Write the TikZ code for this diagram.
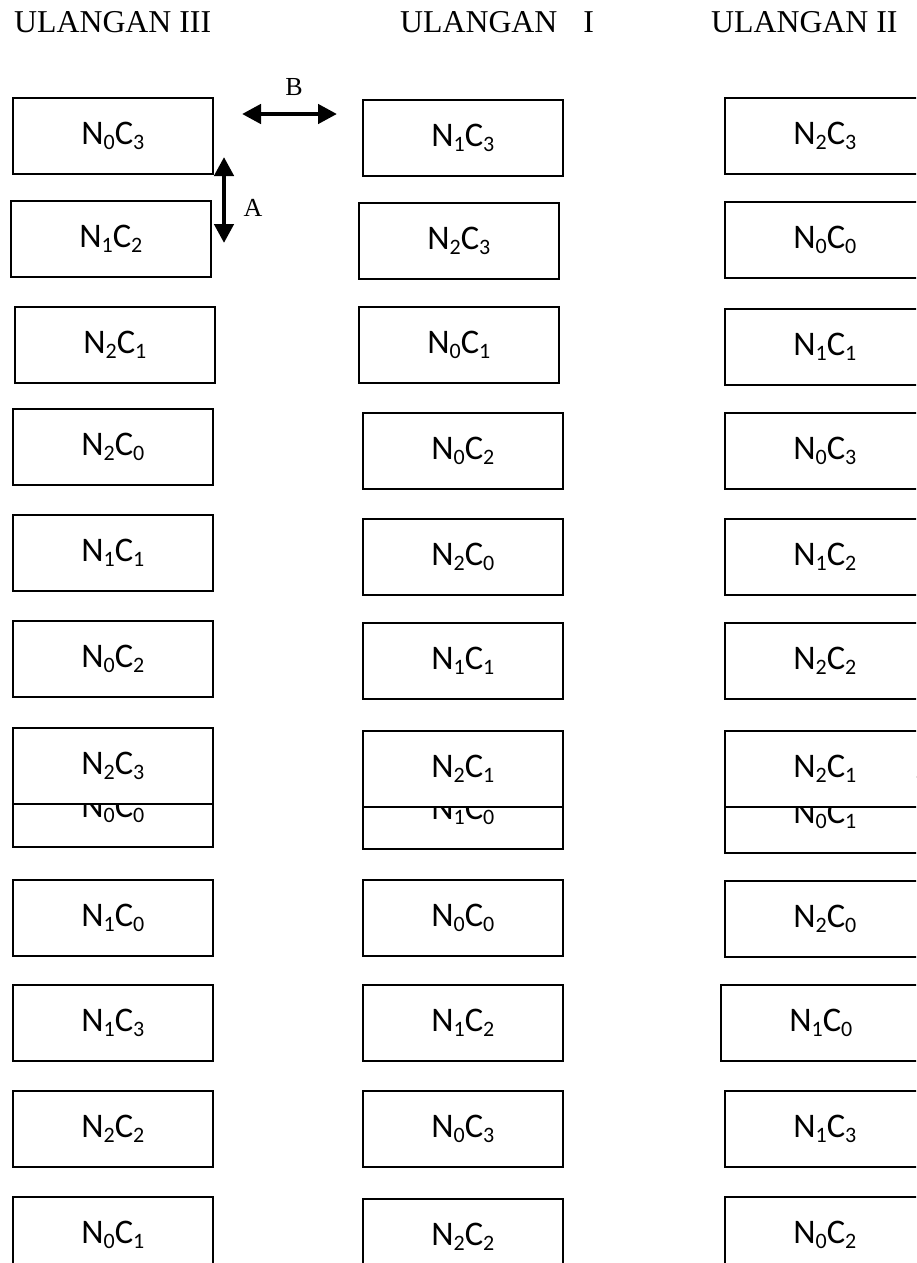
\documentclass[tikz,border=0pt]{standalone}
\usepackage{fontspec}
\setmainfont{Liberation Serif}
\newfontfamily\calfont{Carlito}
\usetikzlibrary{arrows.meta}
\newcommand\sbx[1]{\raisebox{-0.15em}{\fontsize{22}{22}\selectfont #1}}
\newcommand\lbl[2]{N\sbx{#1}C\sbx{#2}}
\tikzset{
  box/.style={draw=black, line width=1.8pt, fill=white, minimum width=200pt,
    minimum height=76pt, inner sep=0pt, anchor=north west,
    font=\calfont\fontsize{34.5}{36}\selectfont},
  hdr/.style={anchor=base west, inner sep=0pt, font=\fontsize{31.8}{33}\selectfont},
  letter/.style={inner sep=0pt, font=\fontsize{26}{28}\selectfont},
  dblarrow/.style={{Triangle[length=19pt,width=19pt]}-{Triangle[length=19pt,width=19pt]}, line width=4.5pt}
}
\begin{document}
\begin{tikzpicture}[x=1pt,y=1pt]
\useasboundingbox (0,0) rectangle (916,-1263);
\clip (0,0) rectangle (916,-1263);
% headers
\node[hdr] (h3) at (14,-33) {ULANGAN III};
\node[hdr] (h1) at (400,-33) {ULANGAN\hspace{26pt}I};
\node[hdr] (h2) at (711,-33) {ULANGAN II};
% column ULANGAN III
\node[box] (a1) at (12,-97) {\lbl03};
\node[box] (a2) at (10,-200) {\lbl12};
\node[box] (a3) at (14,-306) {\lbl21};
\node[box] (a4) at (12,-408) {\lbl20};
\node[box] (a5) at (12,-514) {\lbl11};
\node[box] (a6) at (12,-620) {\lbl02};
\node[box] (a7b) at (12,-770) {\lbl00};
\node[box] (a7) at (12,-727) {\lbl23};
\node[box] (a8) at (12,-879) {\lbl10};
\node[box] (a9) at (12,-984) {\lbl13};
\node[box] (a10) at (12,-1090) {\lbl22};
\node[box] (a11) at (12,-1196) {\lbl01};
% column ULANGAN I
\node[box] (b1) at (362,-99) {\lbl13};
\node[box] (b2) at (358,-202) {\lbl23};
\node[box] (b3) at (358,-306) {\lbl01};
\node[box] (b4) at (362,-412) {\lbl02};
\node[box] (b5) at (362,-518) {\lbl20};
\node[box] (b6) at (362,-622) {\lbl11};
\node[box] (b7b) at (362,-772) {\lbl10};
\node[box] (b7) at (362,-730) {\lbl21};
\node[box] (b8) at (362,-879) {\lbl00};
\node[box] (b9) at (362,-984) {\lbl12};
\node[box] (b10) at (362,-1090) {\lbl03};
\node[box] (b11) at (362,-1198) {\lbl22};
% column ULANGAN II
\node[box] (c1) at (724,-97) {\lbl23};
\node[box] (c2) at (724,-201) {\lbl00};
\node[box] (c3) at (724,-308) {\lbl11};
\node[box] (c4) at (724,-412) {\lbl03};
\node[box] (c5) at (724,-518) {\lbl12};
\node[box] (c6) at (724,-622) {\lbl22};
\node[box] (c7b) at (724,-776) {\lbl01};
\node[box] (c7) at (724,-730) {\lbl21};
\node[box] (c8) at (724,-880) {\lbl20};
\node[box] (c9) at (720,-984) {\lbl10};
\node[box] (c10) at (724,-1090) {\lbl13};
\node[box] (c11) at (724,-1196) {\lbl02};
% arrows
\coordinate (bL) at (242,-114);
\coordinate (bR) at (337,-114);
\draw[dblarrow] (bL) -- (bR);
\node[letter] (lB) at (294,-87) {B};
\coordinate (aT) at (224,-157);
\coordinate (aB) at (224,-243);
\draw[dblarrow] (aT) -- (aB);
\node[letter] (lA) at (253,-208) {A};
\end{tikzpicture}
\end{document}
